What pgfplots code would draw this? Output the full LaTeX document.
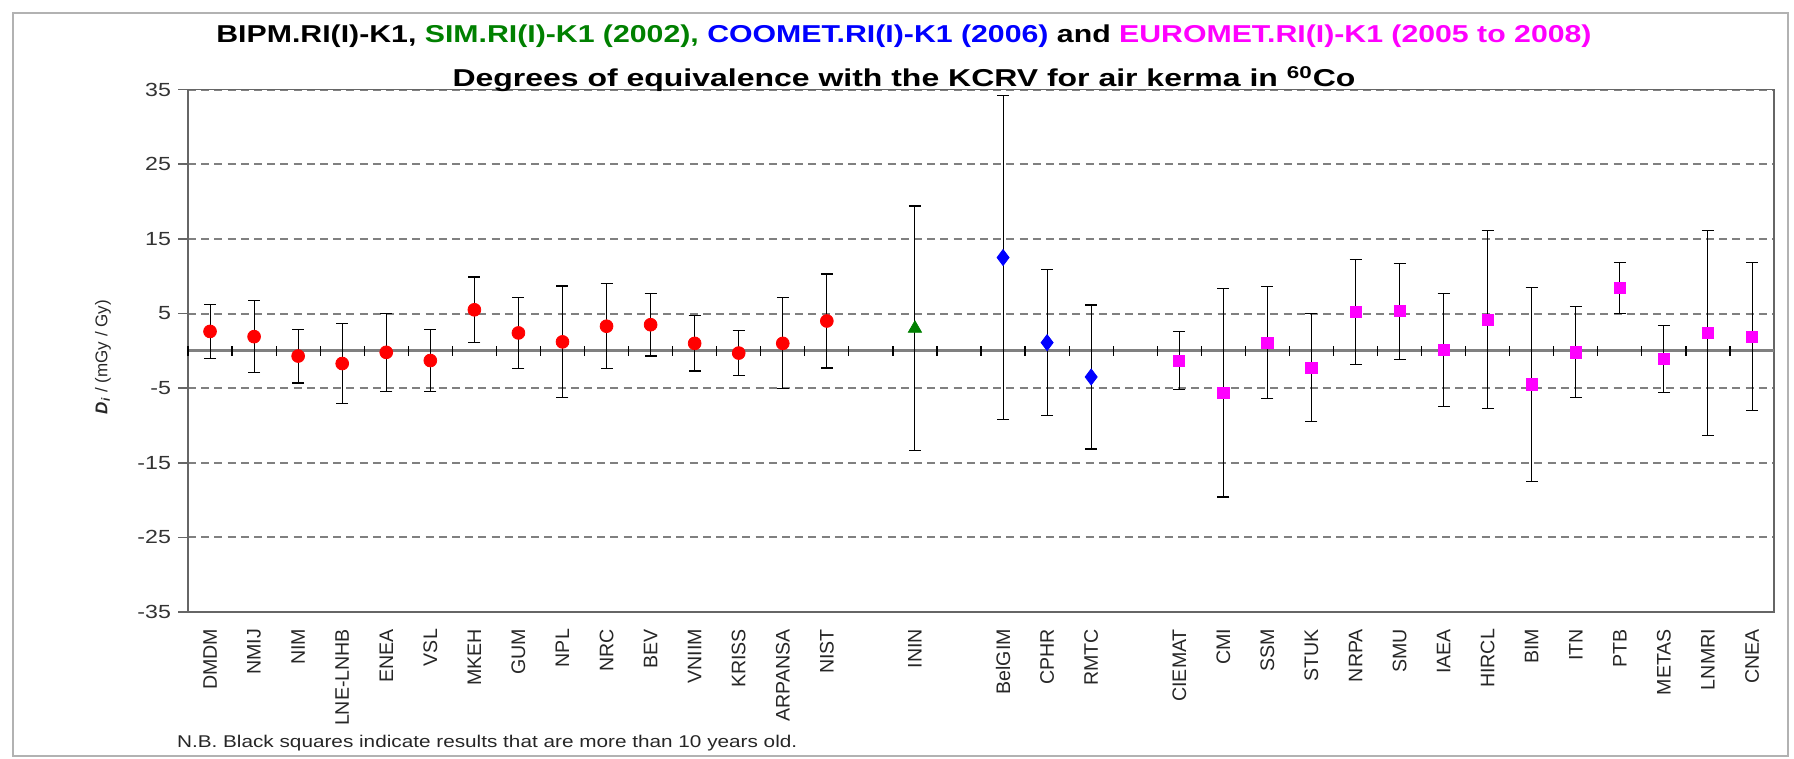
\documentclass[border=0pt]{standalone}
\usepackage{fontspec}
\setmainfont{Liberation Sans}
\newfontfamily\wide{Liberation Sans}[FakeStretch=1.22]
\newfontfamily\widet{Liberation Sans}[FakeStretch=1.24]
\newfontfamily\widett{Liberation Sans}[FakeStretch=1.31]
\usepackage{pgfplots}
\pgfplotsset{compat=1.18}
\definecolor{ered}{RGB}{255,0,0}
\definecolor{sgreen}{RGB}{0,128,0}
\definecolor{cblue}{RGB}{0,0,255}
\definecolor{emag}{RGB}{255,0,255}
\definecolor{gridgray}{RGB}{128,128,128}
\begin{document}
\begin{tikzpicture}[x=0.5bp,y=0.5bp]
\useasboundingbox (0,0) rectangle (1794,759);
\draw[black!30, line width=1.2bp] (13,3) rectangle (1788,746);
\begin{axis}[
  at={(94bp,73.5bp)}, anchor=south west,
  scale only axis, width=793bp, height=261.15bp,
  xmin=-0.5, xmax=35.5, ymin=-35, ymax=35,
  axis line style={black!60, line width=0.8bp},
  ytick={-35,-25,-15,-5,5,15,25,35},
  yticklabels={-35,-25,-15,-5,5,15,25,35},
  yticklabel style={font=\wide\fontsize{9.5bp}{11bp}\selectfont, text=black!80},
  ytick style={black!60, line width=0.8bp},
  tick align=outside, major tick length=5bp,
  ytick pos=left,
  ymajorgrids, major grid style={gridgray, line width=1bp, dash pattern=on 4bp off 2.6bp},
  xtick={0,1,2,3,4,5,6,7,8,9,10,11,12,13,14,16,18,19,20,22,23,24,25,26,27,28,29,30,31,32,33,34,35},
  xticklabels={DMDM,NMIJ,NIM,LNE-LNHB,ENEA,VSL,MKEH,GUM,NPL,NRC,BEV,VNIIM,KRISS,ARPANSA,NIST,ININ,BelGIM,CPHR,RMTC,CIEMAT,CMI,SSM,STUK,NRPA,SMU,IAEA,HIRCL,BIM,ITN,PTB,METAS,LNMRI,CNEA},
  xticklabel style={rotate=90, anchor=east, font=\fontsize{9.8bp}{11bp}\selectfont, text=black!85},
  xtick style={draw=none},
  clip=false,
]
\draw[gridgray, line width=1.6bp] (axis cs:-0.5,0) -- (axis cs:35.5,0);
\pgfplotsinvokeforeach{-0.5,0.5,1.5,2.5,3.5,4.5,5.5,6.5,7.5,8.5,9.5,10.5,11.5,12.5,13.5,14.5,15.5,16.5,17.5,18.5,19.5,20.5,21.5,22.5,23.5,24.5,25.5,26.5,27.5,28.5,29.5,30.5,31.5,32.5,33.5,34.5}{
  \draw[black, line width=0.6bp] (axis cs:#1,-0.67) -- (axis cs:#1,0.67);
}
\addplot[only marks, mark=*, mark size=3.2bp, mark options={fill=ered, draw=ered},
  error bars/.cd, y dir=both, y explicit,
  error bar style={black, line width=0.5bp},
  error mark options={rotate=90, mark size=3bp, line width=0.6bp, black}]
  table[x=x, y=y, y error=e]{
x y e
0 2.6 3.6
1 1.9 4.8
2 -0.7 3.6
3 -1.7 5.4
4 -0.2 5.2
5 -1.3 4.2
6 5.5 4.4
7 2.4 4.8
8 1.2 7.5
9 3.3 5.7
10 3.5 4.2
11 1.0 3.7
12 -0.3 3.0
13 1.0 6.1
14 4.0 6.3
};
\addplot[only marks, mark=triangle*, mark size=3.8bp, mark options={fill=sgreen, draw=sgreen},
  error bars/.cd, y dir=both, y explicit,
  error bar style={black, line width=0.5bp},
  error mark options={rotate=90, mark size=3bp, line width=0.6bp, black}]
  table[x=x, y=y, y error=e]{
x y e
16 3.0 16.4
};
\addplot[only marks, mark=diamond*, mark size=4bp, mark options={fill=cblue, draw=cblue},
  error bars/.cd, y dir=both, y explicit,
  error bar style={black, line width=0.5bp},
  error mark options={rotate=90, mark size=3bp, line width=0.6bp, black}]
  table[x=x, y=y, y error=e]{
x y e
18 12.5 21.7
19 1.1 9.8
20 -3.5 9.65
};
\addplot[only marks, mark=square*, mark size=2.8bp, mark options={fill=emag, draw=emag},
  error bars/.cd, y dir=both, y explicit,
  error bar style={black, line width=0.5bp},
  error mark options={rotate=90, mark size=3bp, line width=0.6bp, black}]
  table[x=x, y=y, y error=e]{
x y e
22 -1.3 3.9
23 -5.6 14.0
24 1.1 7.5
25 -2.25 7.25
26 5.2 7.05
27 5.3 6.45
28 0.1 7.55
29 4.2 11.95
30 -4.5 13.0
31 -0.2 6.1
32 8.4 3.4
33 -1.1 4.5
34 2.4 13.7
35 1.9 9.9
};
\end{axis}
\node[anchor=base, font=\widet\bfseries\fontsize{12.2bp}{14bp}\selectfont] at (904,716)
  {BIPM.RI(I)-K1, \textcolor{sgreen}{SIM.RI(I)-K1 (2002),} \textcolor{cblue}{COOMET.RI(I)-K1 (2006)} and \textcolor{emag}{EUROMET.RI(I)-K1 (2005 to 2008)}};
\node[anchor=base, font=\widett\bfseries\fontsize{12.2bp}{14bp}\selectfont] at (904,672)
  {Degrees of equivalence with the KCRV for air kerma in \textsuperscript{60}Co};
\node[rotate=90, font=\fontsize{8.5bp}{10bp}\selectfont, text=black!85] at (103,402)
  {\textbf{\textit{D}}\textsubscript{\textbf{\textit{i}}} / (mGy / Gy)};
\node[anchor=base west, font=\wide\fontsize{8.5bp}{10bp}\selectfont, text=black!85] at (170,11)
  {N.B. Black squares indicate results that are more than 10 years old.};
\end{tikzpicture}
\end{document}
